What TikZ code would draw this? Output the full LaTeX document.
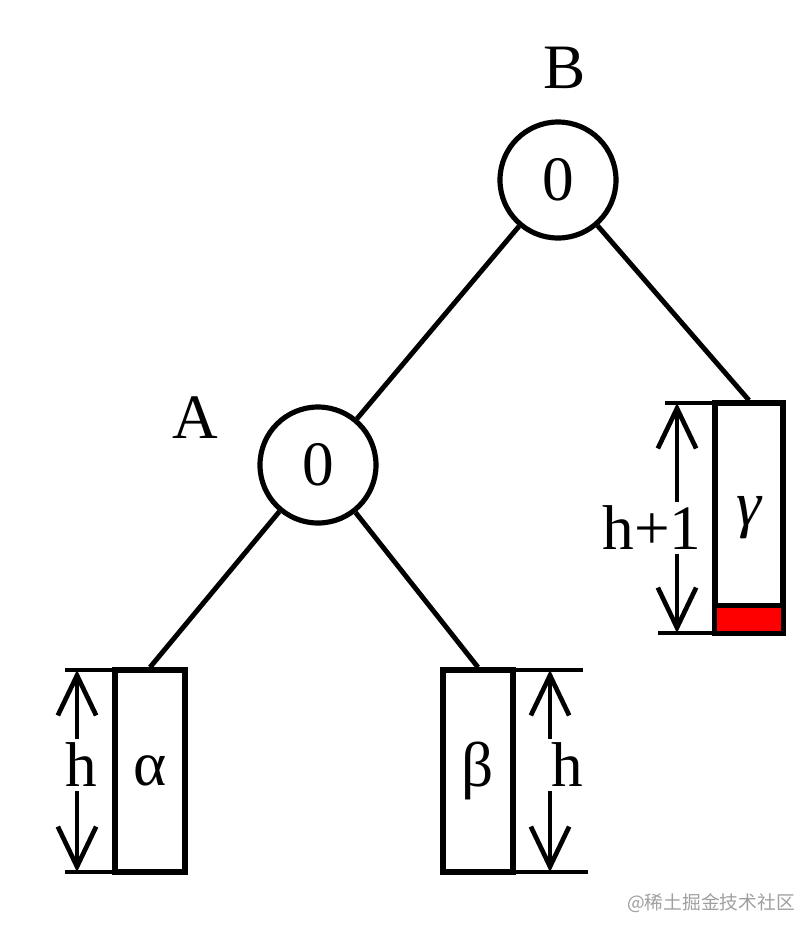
\documentclass[tikz,border=0pt]{standalone}
\usepackage{fontspec}
\setmainfont{Liberation Serif}
\newfontfamily\cjkfont{Noto Sans CJK SC}
\usetikzlibrary{arrows.meta, calc, positioning}
\tikzset
{
vtx/.style={draw, circle, line width=4.4pt, minimum size=3.48cm, inner sep=0pt},
sub/.style={draw, rectangle, line width=4.6pt, minimum width=2.1cm, minimum height=6.06cm, inner sep=0pt},
edg/.style={line width=4.2pt},
hline/.style={line width=4pt},
dim/.style={line width=4pt, -{Straight Barb[length=1.2cm, width=1.15cm]}},
big/.style={font=\fontsize{54}{64}\selectfont}
}
\begin{document}
\begin{tikzpicture}[x=0.03cm, y=-0.03cm]
	\useasboundingbox (0,0) rectangle (812,938);

	\node[vtx, big] (B) at (558,180) {0};
	\node[vtx, big] (A) at (318,465) {0};
	\node[big] (labB) at ($(B) + (7,-112)$) {B};
	\node[big] (labA) at ($(A) + (-123,-47)$) {A};

	\node[sub, big] (alpha) at (150,771) {α};
	\node[sub, big] (beta) at (478,771) {β};
	\node[sub, big, minimum width=2.04cm, minimum height=6.9cm] (gamma) at (749,518) {\itshape γ};
	\node[draw, fill=red, line width=4pt, minimum width=2.04cm, minimum height=0.84cm, inner sep=0pt, anchor=south] (gred) at (gamma.south) {};

	\draw[edg] (B) -- (A);
	\draw[edg] (B) -- (gamma.north);
	\draw[edg] (A) -- (alpha.north);
	\draw[edg] (A) -- (beta.north);

	% heights
	\coordinate (a1) at (65,670);   \coordinate (a2) at (65,872);
	\coordinate (at1) at (77,670);  \coordinate (at2) at (77,872);
	\coordinate (b1) at (583,670);  \coordinate (b2) at (588,872);
	\coordinate (bt1) at (550,670); \coordinate (bt2) at (550,872);
	\coordinate (g1) at (665,403);  \coordinate (g2) at (658,633);
	\coordinate (gt1) at (677,403); \coordinate (gt2) at (677,633);

	\node[big] (ha) at (81,765) {h};
	\node[big] (hb) at (567,765) {h};
	\node[big] (hg) at (652,528) {h+1};

	\draw[hline] (a1) -- (a1 -| alpha.west) (a2) -- (a2 -| alpha.west);
	\draw[hline] (b1 -| beta.east) -- (b1) (b2 -| beta.east) -- (b2);
	\draw[hline] (g1) -- (g1 -| gamma.west) (g2) -- (g2 -| gamma.west);

	\draw[dim] (ha.north -| at1) -- (at1);
	\draw[dim] (ha.south -| at2) -- (at2);
	\draw[dim] (hb.north -| bt1) -- (bt1);
	\draw[dim] (hb.south -| bt2) -- (bt2);
	\draw[dim] (hg.north -| gt1) -- (gt1);
	\draw[dim] (hg.south -| gt2) -- (gt2);

	\node[text=gray!75, font=\cjkfont\fontsize{16}{18}\selectfont] (wm) at (711,903) {@稀土掘金技术社区};
\end{tikzpicture}
\end{document}
